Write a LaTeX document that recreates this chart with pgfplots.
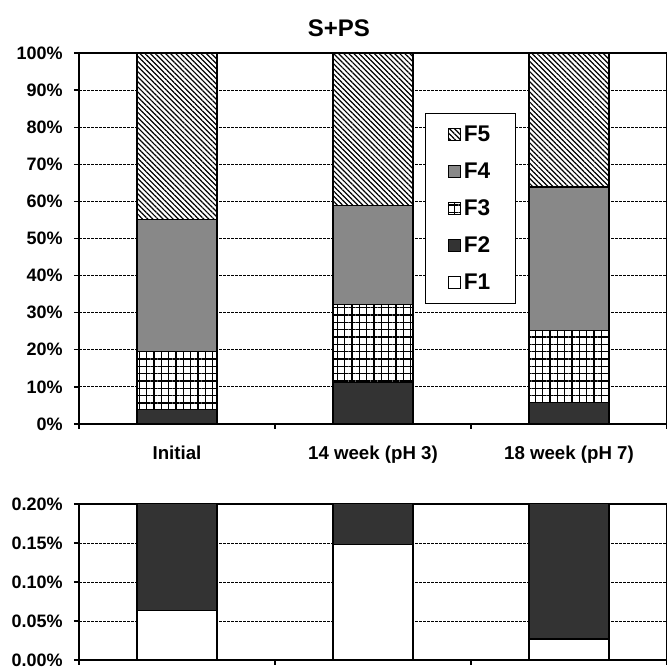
\documentclass[border=0pt]{standalone}
\usepackage{fontspec}
\setmainfont{Liberation Sans}
\usepackage{pgfplots}
\pgfplotsset{compat=1.18}
\usetikzlibrary{patterns.meta}
\definecolor{fdark}{HTML}{333333}
\definecolor{fgray}{HTML}{888888}
\pgfplotsset{
  common/.style={
    scale only axis, width=441pt,
    xmin=-0.5, xmax=2.5,
    ybar stacked, bar width=0.408,
    xtick={-0.5,0.5,1.5,2.5}, xticklabels={},
    tick pos=left, tick align=outside,
    major tick length=3.75pt,
    axis line style={line width=1.3pt},
    ymajorgrids,
    major grid style={black, line width=0.6pt, dash pattern=on 2pt off 1pt},
    tick style={black, line width=1pt},
    /pgf/number format/assume math mode=true,
    tick label style={font=\fontsize{13.5}{15}\selectfont\bfseries},
    yticklabel style={xshift=-5pt},
    every axis plot/.append style={draw=black, line width=0.9pt},
  },
  f1/.style={fill=white},
  f2/.style={fill=fdark},
  f3/.style={fill=white, postaction={pattern={Hatch[angle=0, distance=5.5pt, line width=1pt]}}},
  f4/.style={fill=fgray},
  f5/.style={fill=white, postaction={pattern={Lines[angle=-45, distance=2.7pt, line width=0.9pt]}}},
}
\begin{document}
\begin{tikzpicture}
\path[use as bounding box] (0pt,0pt) rectangle (500.25pt,500.25pt);
\begin{axis}[common,
  at={(59.25pt,182.25pt)}, anchor=south west, height=278.25pt,
  ymin=0, ymax=100, ytick={0,10,...,100},
  yticklabel={\pgfmathprintnumber{\tick}\%},
  extra x ticks={0,1,2},
  extra x tick labels={Initial,14 week (pH 3),18 week (pH 7)},
  extra x tick style={major tick length=0pt, xticklabel style={yshift=-13pt, font=\fontsize{14}{16}\selectfont\bfseries}},
  title={S+PS},
  title style={font=\fontsize{18}{20}\selectfont\bfseries, at={(0.442,1)}, anchor=center, yshift=12.75pt},
  legend style={at={(0.588,0.838)}, anchor=north west, draw=black, line width=1pt,
    font=\fontsize{17}{19}\selectfont\bfseries, inner xsep=17pt, inner ysep=7pt,
    row sep=10.5pt, cells={anchor=west}},
  legend image code/.code={\draw[#1, line width=0.8pt] (0pt,-4.5pt) rectangle (9pt,4.5pt);},
  reverse legend,
]
\addplot[f1] coordinates {(0,0.063) (1,0.148) (2,0.027)};
\addlegendentry{F1}
\addplot[f2] coordinates {(0,3.85) (1,11.05) (2,5.67)};
\addlegendentry{F2}
\addplot[f3] coordinates {(0,15.6) (1,21.1) (2,19.6)};
\addlegendentry{F3}
\addplot[f4] coordinates {(0,35.7) (1,26.6) (2,38.6)};
\addlegendentry{F4}
\addplot[f5] coordinates {(0,44.787) (1,41.102) (2,36.103)};
\addlegendentry{F5}
\end{axis}
\begin{axis}[common,
  at={(59.25pt,5.25pt)}, anchor=south west, height=117pt,
  ymin=0, ymax=0.2, ytick={0,0.05,0.1,0.15,0.2},
  yticklabel={\pgfmathprintnumber[fixed,fixed zerofill,precision=2]{\tick}\%},
]
\addplot[f1] coordinates {(0,0.063) (1,0.148) (2,0.027)};
\addplot[f2] coordinates {(0,3.85) (1,11.05) (2,5.67)};
\end{axis}
\end{tikzpicture}
\end{document}
